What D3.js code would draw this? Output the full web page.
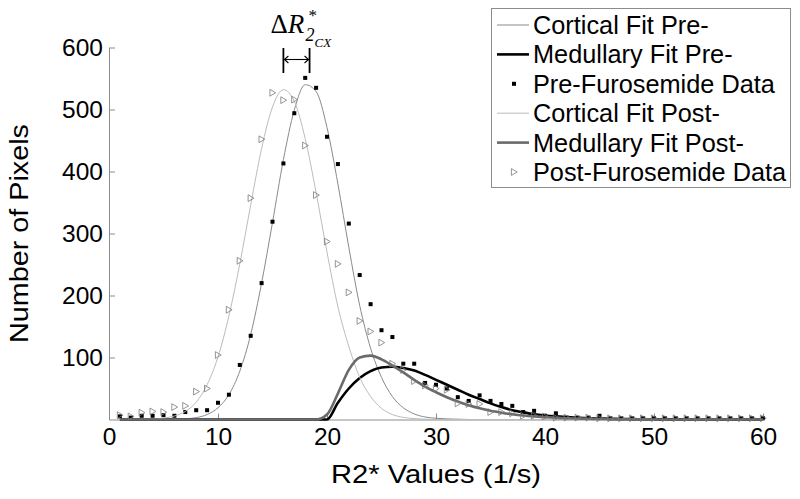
<!DOCTYPE html>
<html>
<head>
<meta charset="utf-8">
<script src="https://cdn.jsdelivr.net/npm/d3@7"></script>
<style>
  body { margin: 0; background: #fff; }
  svg { display: block; }
</style>
</head>
<body>
<svg id="canvas" width="800" height="499"></svg>
<script>
// R2* bins (1/s)
const r2Bins = [1,2,3,4,5,6,7,8,9,10,11,12,13,14,15,16,17,18,19,20,
  21,22,23,24,25,26,27,28,29,30,31,32,33,34,35,36,37,38,39,40,
  41,42,43,44,45,46,47,48,49,50,51,52,53,54,55,56,57,58,59,60];

// histogram counts
const preData = [5,3,6,6,7,6,12,15,15,27,40,88,135,220,319,413,494,551,535,456,
  412,316,233,186,144,133,90,90,59,56,50,36,30,39,30,25,22,12,14,6,
  10,3,3,3,6,2,2,2,2,2,2,2,2,2,2,2,2,2,2,2];
const postData = [7,5,11,13,12,20,22,45,50,104,177,256,357,452,527,515,516,442,362,287,
  251,205,159,142,124,90,80,62,55,50,48,26,25,25,12,12,10,6,6,5,
  3,3,3,3,2,2,2,2,2,2,2,2,2,2,2,2,2,2,2,2];

// fitted curves, sampled at the same bins
const corticalPre = [0,0,0,0,0.1,0.3,1.1,3,8,19,40,78,137,220,318,419,499,540,529,471,
  380,278,184,115,68,37,19,9,4,2,1,0.5,0,0,0,0,0,0,0,0,
  0,0,0,0,0,0,0,0,0,0,0,0,0,0,0,0,0,0,0,0];
const medullaryPre = [0,0,0,0,0,0,0,0,0,0,0,0,0,0,0,0,0,0,0,0,
  27,50,67,78,84,85,83,79,72,64,56,48,40,33,26,20,15,11.5,8.5,6.5,
  5,3.8,2.8,2,1.5,1.1,0.8,0.6,0.4,0.3,0.2,0.2,0.1,0.1,0.1,0,0,0,0,0];
const corticalPost = [0,0,0.3,0.8,2.2,5.6,13,28,56,101,167,251,346,437,504,532,513,453,366,270,
  182,118,68,37,18,8,3.5,1.5,0.5,0,0,0,0,0,0,0,0,0,0,0,
  0,0,0,0,0,0,0,0,0,0,0,0,0,0,0,0,0,0,0,0];
const medullaryPost = [0,0,0,0,0,0,0,0,0,0,0,0,0,0,0,0,0,0,0,8,
  42,80,100,103,97,87,76,64,53,44,36,29,23,18,14,11,8.5,6.5,5,3.8,
  2.8,2,1.5,1.1,0.8,0.6,0.4,0.3,0.2,0.1,0.1,0.1,0,0,0,0,0,0,0,0];

// cortical peak positions used for the delta marker
const peakPost = 16.0;
const peakPre = 18.4;

const xTicks = [0,10,20,30,40,50,60];
const yTicks = [100,200,300,400,500,600];

const legendLabels = ["Cortical Fit Pre-", "Medullary Fit Pre-", "Pre-Furosemide Data",
  "Cortical Fit Post-", "Medullary Fit Post-", "Post-Furosemide Data"];

const sans = "'Liberation Sans', Arial, Helvetica, sans-serif";
const serif = "'Liberation Serif', 'Times New Roman', serif";

let canvas = d3.select("#canvas");

let x = d3.scaleLinear().domain([0, 60]).range([109, 763]);
let y = d3.scaleLinear().domain([0, 600]).range([419.5, 47.5]);

let styles = {
  corticalPre: { stroke: "#8a8a8a", width: 1 },
  medullaryPre: { stroke: "#000", width: 2.6 },
  corticalPost: { stroke: "#bcbcbc", width: 1 },
  medullaryPost: { stroke: "#6a6a6a", width: 2.6 }
};

// axes
let xAxis = canvas.append("g")
  .attr("transform", `translate(0,${y(0)})`)
  .call(d3.axisBottom(x).tickValues(xTicks).tickSizeInner(-6).tickSizeOuter(0).tickPadding(8));

let yAxis = canvas.append("g")
  .attr("transform", `translate(${x(0)},0)`)
  .call(d3.axisLeft(y).tickValues(yTicks).tickSizeInner(-6).tickSizeOuter(0).tickPadding(6));

[xAxis, yAxis].forEach((ax) => {
  ax.select(".domain").attr("stroke", "#8c8c8c");
  ax.selectAll(".tick line").attr("stroke", "#8c8c8c");
  ax.selectAll(".tick text")
    .attr("fill", "#000")
    .style("font-family", sans)
    .style("font-size", "24.5px");
});

// axis titles
canvas.append("text")
  .attr("x", (x(0) + x(60)) / 2)
  .attr("y", 483)
  .attr("text-anchor", "middle")
  .attr("textLength", 210)
  .attr("lengthAdjust", "spacingAndGlyphs")
  .style("font-family", sans)
  .style("font-size", "25px")
  .text("R2* Values (1/s)");

canvas.append("text")
  .attr("transform", `translate(28,${(y(0) + y(600)) / 2}) rotate(-90)`)
  .attr("text-anchor", "middle")
  .attr("textLength", 219)
  .attr("lengthAdjust", "spacingAndGlyphs")
  .style("font-family", sans)
  .style("font-size", "25px")
  .text("Number of Pixels");

// fitted curves and data
let line = (values) => d3.line()
  .x((d, i) => x(r2Bins[i]))
  .y((d) => y(d))
  .curve(d3.curveMonotoneX)(values);

let drawFit = (values, st) => {
  canvas.append("path")
    .attr("d", line(values))
    .attr("fill", "none")
    .attr("stroke", st.stroke)
    .attr("stroke-width", st.width)
    .attr("stroke-linejoin", "round");
};

let trianglePath = "M-2.6,-3.4L3.2,0L-2.6,3.4Z";

let drawSquares = (values) => {
  canvas.append("g").selectAll("rect")
    .data(values)
    .enter()
    .append("rect")
    .attr("x", (d, i) => x(r2Bins[i]) - 2)
    .attr("y", (d) => y(d) - 2)
    .attr("width", 4)
    .attr("height", 4)
    .attr("fill", "#000");
};

let drawTriangles = (values) => {
  canvas.append("g").selectAll("path")
    .data(values)
    .enter()
    .append("path")
    .attr("d", trianglePath)
    .attr("transform", (d, i) => `translate(${x(r2Bins[i])},${y(d)})`)
    .attr("fill", "none")
    .attr("stroke", "#7a7a7a")
    .attr("stroke-width", 0.8);
};

drawFit(corticalPre, styles.corticalPre);
drawFit(medullaryPre, styles.medullaryPre);
drawSquares(preData);
drawFit(corticalPost, styles.corticalPost);
drawFit(medullaryPost, styles.medullaryPost);
drawTriangles(postData);

// delta R2* marker between the two cortical peaks
let ax1 = x(peakPost), ax2 = x(peakPre), ay = 59.5;
let marker = canvas.append("g").attr("stroke", "#000").attr("fill", "none");
marker.append("line").attr("x1", ax1).attr("x2", ax1).attr("y1", 48).attr("y2", 73).attr("stroke-width", 1.8);
marker.append("line").attr("x1", ax2).attr("x2", ax2).attr("y1", 48).attr("y2", 73).attr("stroke-width", 1.8);
marker.append("line").attr("x1", ax1 + 1).attr("x2", ax2 - 1).attr("y1", ay).attr("y2", ay).attr("stroke-width", 1.1);
marker.append("path").attr("d", `M${ax1 + 5},${ay - 3.5}L${ax1 + 1},${ay}L${ax1 + 5},${ay + 3.5}`).attr("stroke-width", 1.1);
marker.append("path").attr("d", `M${ax2 - 5},${ay - 3.5}L${ax2 - 1},${ay}L${ax2 - 5},${ay + 3.5}`).attr("stroke-width", 1.1);

// label: one text element, super/subscripts as tspans
let mid = (ax1 + ax2) / 2;
let dl = canvas.append("text")
  .attr("x", mid - 26)
  .attr("y", 33)
  .style("font-family", serif)
  .style("font-size", "27px");
dl.append("tspan").text("Δ");
dl.append("tspan").style("font-style", "italic").text("R");
dl.append("tspan").attr("x", mid + 12).attr("y", 21).style("font-size", "17px").text("*");
dl.append("tspan").attr("x", mid + 9).attr("y", 41).style("font-size", "18px").style("font-style", "italic").text("2");
dl.append("tspan").attr("x", mid + 18).attr("y", 46.5).style("font-size", "13px").style("font-style", "italic").text("CX");

// legend
let legend = canvas.append("g");
legend.append("rect")
  .attr("x", 491.5).attr("y", 8.5)
  .attr("width", 299).attr("height", 179)
  .attr("fill", "#fff")
  .attr("stroke", "#8c8c8c");

let legendKinds = ["corticalPre", "medullaryPre", "squares", "corticalPost", "medullaryPost", "triangles"];
let rowY = (i) => 25 + i * 29.4;

legendKinds.forEach((kind, i) => {
  let cy = rowY(i);
  if (styles[kind]) {
    legend.append("line")
      .attr("x1", 497).attr("x2", 529)
      .attr("y1", cy).attr("y2", cy)
      .attr("stroke", styles[kind].stroke)
      .attr("stroke-width", styles[kind].width);
  } else if (kind === "squares") {
    legend.append("rect").attr("x", 512).attr("y", cy - 2).attr("width", 4).attr("height", 4).attr("fill", "#000");
  } else {
    legend.append("path").attr("d", trianglePath)
      .attr("transform", `translate(514,${cy})`)
      .attr("fill", "none").attr("stroke", "#7a7a7a").attr("stroke-width", 0.8);
  }
});

legend.selectAll("text.label")
  .data(legendLabels)
  .enter()
  .append("text")
  .attr("class", "label")
  .attr("x", 533)
  .attr("y", (d, i) => rowY(i) + 9)
  .style("font-family", sans)
  .style("font-size", "25.3px")
  .text((d) => d);
</script>
</body>
</html>
